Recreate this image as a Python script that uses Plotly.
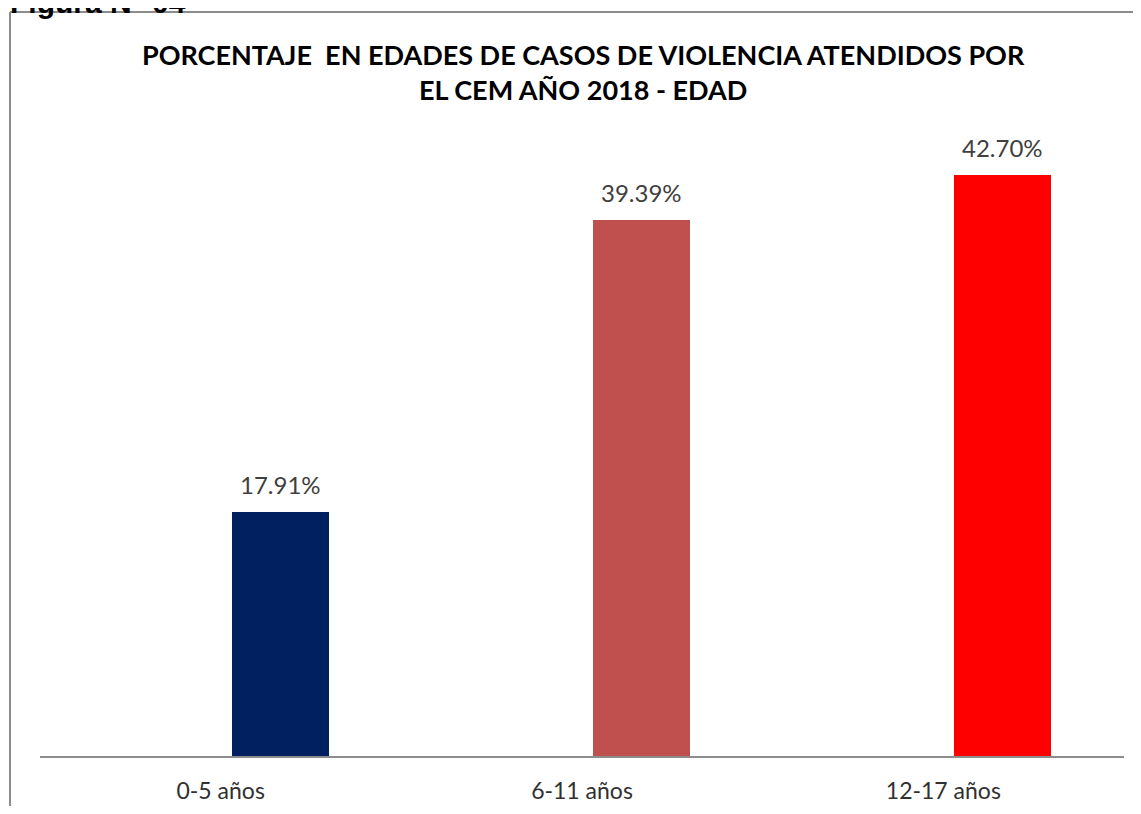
import plotly.graph_objects as go

categories = ["0-5 años", "6-11 años", "12-17 años"]
values = [17.91, 39.39, 42.70]
labels = ["17.91%", "39.39%", "42.70%"]
colors = ["#002060", "#C0504D", "#FF0000"]

# page body has an 8px margin; work in screen pixels and convert
OFF = 8
W, H = 1141 - 2 * OFF, 814 - 2 * OFF
PLOT_L, PLOT_R, PLOT_T, PLOT_B = 40, 1124, 100, 756  # screen pixels
L = PLOT_L - OFF
R = W - (PLOT_R - OFF)
T = PLOT_T - OFF
B = H - (PLOT_B - OFF)
PW = PLOT_R - PLOT_L
PH = PLOT_B - PLOT_T
PX_PER_PCT = 13.6
ymax = PH / PX_PER_PCT

def px(x):
    return (x - PLOT_L) / PW

def py(y):
    return (PLOT_B - y) / PH

BAR_W = 0.269
BAR_OFF = 0.030

fig = go.Figure()
fig.add_trace(go.Bar(
    x=categories, y=values,
    marker=dict(color=colors, line=dict(width=0)),
    width=BAR_W, offset=BAR_OFF,
    hoverinfo="skip",
))

annotations = []
for i, (v, lab) in enumerate(zip(values, labels)):
    annotations.append(dict(
        x=i + BAR_OFF + BAR_W / 2, y=v, xref="x", yref="y",
        text=lab, showarrow=False, yanchor="bottom", yshift=11,
        font=dict(family="Lato", size=24, color="#404040"),
    ))

annotations.append(dict(
    x=px(583), y=py(72), xref="paper", yref="paper",
    text="<b>PORCENTAJE  EN EDADES DE CASOS DE VIOLENCIA ATENDIDOS POR<br>EL CEM AÑO 2018 - EDAD</b>",
    showarrow=False, xanchor="center", yanchor="middle",
    font=dict(family="Lato", size=27, color="#000000"),
    align="center",
))
annotations.append(dict(
    x=px(8), y=py(21), xref="paper", yref="paper",
    text="<b>Figura N° 04</b>", showarrow=False, xanchor="left", yanchor="bottom",
    font=dict(family="Liberation Sans", size=30, color="#000000"),
))

shapes = [
    dict(type="line", xref="paper", yref="paper", x0=px(10), x1=px(1160), y0=py(12), y1=py(12),
         line=dict(color="#8C8C8C", width=2)),
    dict(type="line", xref="paper", yref="paper", x0=px(10), x1=px(10), y0=py(12), y1=py(830),
         line=dict(color="#8C8C8C", width=2)),
]

fig.update_layout(
    width=W, height=H,
    margin=dict(l=L, r=R, t=T, b=B, autoexpand=False),
    paper_bgcolor="white", plot_bgcolor="white",
    showlegend=False,
    bargap=0,
    annotations=annotations,
    shapes=shapes,
    font=dict(family="Lato", color="#404040"),
)
fig.update_xaxes(
    showline=True, linecolor="#8C8C8C", linewidth=2,
    ticks="", tickfont=dict(family="Lato", size=23, color="#303030"),
    ticklabelstandoff=13, automargin=False,
    showgrid=False, zeroline=False,
)
fig.update_yaxes(
    range=[0, ymax], visible=False, showgrid=False, zeroline=False,
)

fig.write_html("out.html")
